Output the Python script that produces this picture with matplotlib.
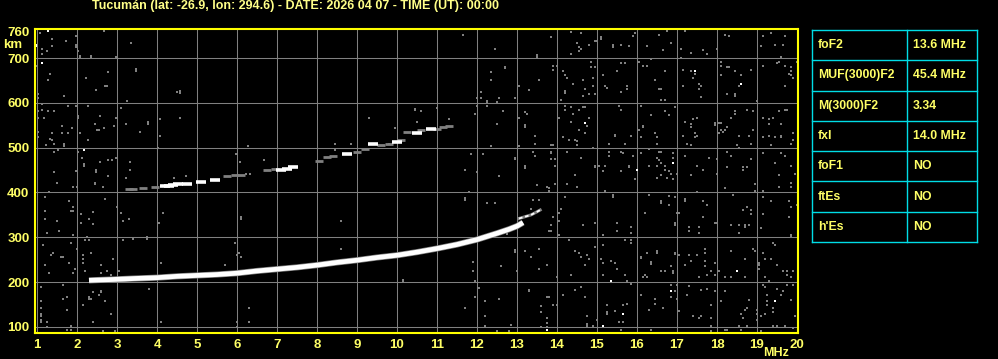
import matplotlib
matplotlib.use('Agg')
import matplotlib.pyplot as plt
import numpy as np

# ---- data ----
title = "Tucumán (lat: -26.9, lon: 294.6) - DATE: 2026 04 07 - TIME (UT): 00:00"

# main F2 trace (ordinary), white band
trace_f = [2.30, 2.60, 2.90, 3.40, 4.00, 4.50, 5.00, 5.50, 6.00, 6.50, 7.00, 7.50,
           8.00, 8.50, 9.00, 9.50, 10.00, 10.50, 11.00, 11.50, 12.00, 12.50, 12.80,
           13.00, 13.15]
trace_km = [204, 205, 206, 208, 210, 213, 215, 217, 220, 225, 229, 233,
            238, 244, 249, 255, 260, 267, 275, 284, 295, 309, 318, 325, 333]

# extraordinary tail up to fxI
xtail_f = [13.05, 13.20, 13.35, 13.50, 13.58]
xtail_km = [342, 346, 350, 357, 361]

# second-hop trace, broken: 1 = white, 0 = grey
upper_f = [3.30, 3.40, 3.65, 3.95, 4.20, 4.30, 4.40, 4.52, 4.75, 5.10, 5.45, 5.75,
           5.95, 6.10, 6.75, 6.95, 7.10, 7.25, 7.40, 8.05, 8.25, 8.40, 8.75, 9.00,
           9.20, 9.40, 9.60, 9.80, 10.00, 10.10, 10.25, 10.50, 10.60, 10.85, 11.00,
           11.15, 11.30]
upper_km = [407, 407, 411, 412, 415, 415, 416, 420, 420, 424, 427, 436,
            438, 438, 450, 452, 451, 453, 456, 470, 479, 481, 486, 491,
            496, 508, 506, 508, 512, 516, 535, 533, 540, 542, 542, 547, 549]
upper_white = [0, 0, 0, 0, 1, 1, 1, 1, 1, 1, 1, 0,
               0, 0, 0, 0, 1, 1, 1, 0, 0, 0, 1, 0,
               0, 1, 0, 0, 1, 0, 0, 1, 0, 1, 0, 0, 0]

# scattered interference dots (freq MHz, height km)
noise_grey = [
    (1.08,756),(1.38,743),(1.13,720),(1.24,716),(1.38,726),(1.13,708),(1.73,738),(1.98,750),
    (1.98,728),(1.98,724),(2.03,716),(2.08,705),(2.08,702),(2.34,705),(2.34,702),(2.68,760),
    (2.98,702),(3.34,734),(0.99,683),(1.33,665),(1.28,652),(2.23,656),(2.78,669),(3.48,676),
    (3.48,672),(2.48,629),(2.70,638),(2.74,638),(1.68,616),(1.03,620),(1.03,611),(3.25,603),
    (4.49,625),(4.58,627),(4.58,622),(1.13,597),(1.13,584),(1.03,581),(1.03,566),(1.28,581),
    (1.43,581),(1.18,566),(1.78,593),(1.98,593),(2.28,593),(2.03,571),(2.03,567),(3.09,589),
    (2.58,571),(2.98,566),(1.63,549),(1.88,544),(2.44,553),(2.51,540),(2.55,540),(2.68,544),
    (2.93,549),(3.23,553),(3.78,557),(3.78,553),(4.08,563),(4.58,566),(1.03,534),(1.03,523),
    (1.38,532),(1.63,532),(1.78,532),(2.08,532),(3.58,536),(4.08,527),(1.33,520),(1.38,518),
    (2.28,518),(1.23,505),(1.43,508),(1.68,508),(1.68,504),(2.03,491),(1.53,495),(1.43,491),
    (2.13,478),(2.18,464),(2.18,460),(2.58,468),(2.78,473),(2.88,473),(2.98,478),(3.33,468),
    (2.48,450),(2.48,446),(2.78,437),(3.33,451),(1.43,446),(1.98,448),(3.23,433),(4.03,500),
    (6.28,504),(5.98,486),(6.08,468),(6.68,473),(6.23,441),(6.33,441),(4.43,433),(4.73,437),
    (11.64,752),(12.44,721),(13.49,706),(13.49,702),(12.69,681),(12.69,677),(12.34,669),
    (12.34,651),(13.04,638),(13.29,629),(13.54,651),(12.09,624),(12.09,611),(11.99,611),
    (12.24,604),(12.24,600),(12.50,602),(12.54,611),(12.94,611),(12.00,593),(12.24,593),
    (12.64,581),(13.19,580),(13.24,575),(11.94,575),(13.04,566),(12.49,553),(13.19,551),
    (13.19,547),(13.44,526),(13.44,508),(12.34,504),(13.04,504),(11.84,486),(12.14,486),
    (13.39,491),(13.44,482),(12.94,478),(12.94,474),(13.19,458),(13.19,455),(11.69,450),
    (11.99,446),(12.54,437),(10.44,587),(10.44,584),(10.59,581),(10.49,558),(10.99,589),
    (9.30,567),(8.45,495),(8.45,508),(8.84,508),(9.79,508),(9.95,544),(11.29,563),
    (13.84,746),(14.34,759),(14.59,756),(14.49,734),(14.54,724),(14.59,719),(14.54,716),
    (14.34,708),(14.79,730),(14.94,737),(15.00,737),(15.09,746),(15.09,742),(15.39,728),
    (15.39,724),(15.59,730),(15.79,726),(15.89,750),(15.94,755),(16.24,726),(16.54,752),
    (16.64,717),(16.84,734),(16.74,761),(17.19,761),(17.09,721),(17.34,711),(17.64,717),
    (17.74,708),(17.09,701),(17.99,721),(18.19,752),(18.29,750),(19.14,750),(19.34,755),
    (19.69,748),(19.44,730),(19.64,730),(19.09,726),(19.59,703),
    (13.89,683),(13.99,683),(13.89,674),(14.14,670),(14.19,661),(14.24,656),(14.39,643),
    (14.19,626),(14.19,622),(14.09,606),(14.64,652),(14.69,630),(14.64,616),(14.84,692),
    (14.84,679),(14.95,679),(14.89,656),(14.89,638),(14.95,620),(14.79,620),(15.14,661),
    (15.19,638),(15.24,634),(15.49,670),(15.59,688),(15.69,688),(15.59,625),(15.74,638),
    (15.74,630),(16.04,692),(16.14,683),(16.24,683),(16.34,697),(16.44,652),(16.54,630),
    (16.59,630),(16.59,607),(16.69,607),(16.69,670),(17.14,674),(17.34,670),(17.39,656),
    (17.44,665),(17.14,638),(17.54,643),(17.59,638),(17.54,630),(17.59,612),(18.09,692),
    (18.09,683),(18.24,679),(18.29,679),(18.44,670),(18.84,674),(18.09,661),(18.59,661),
    (18.54,638),(18.24,620),(18.44,620),(18.44,616),(19.14,683),(19.49,688),(19.54,692),
    (19.69,683),(19.84,679),(19.84,670),(19.79,665),(19.89,656),(19.84,661),(19.69,638),
    (19.99,692),(18.99,603),
    (14.19,594),(14.34,590),(14.64,590),(14.69,590),(14.19,585),(14.39,576),(14.54,585),
    (14.04,567),(14.34,558),(14.54,540),(14.74,549),(14.79,567),(14.69,533),(14.14,523),
    (14.29,518),(14.44,518),(14.49,514),(14.49,505),(13.84,505),(13.89,505),(14.89,500),
    (15.44,529),(15.44,525),(15.59,585),(15.54,594),(15.69,509),(15.84,527),(15.29,509),
    (16.09,594),(16.14,549),(16.14,545),(16.04,540),(16.34,572),(16.09,523),(16.44,532),
    (16.49,523),(16.49,509),(16.69,581),(16.79,572),(16.94,590),(17.14,527),(17.19,558),
    (17.34,553),(17.34,545),(17.39,563),(17.49,567),(17.44,532),(17.49,527),(17.44,523),
    (17.24,509),(17.34,505),(17.94,555),(17.94,550),(18.04,555),(18.09,555),(18.09,540),
    (18.14,536),(18.19,540),(18.24,545),(18.04,532),(18.34,567),(18.44,576),(18.44,581),
    (18.54,527),(18.74,585),(18.79,527),(18.89,581),(18.89,540),(18.49,505),(18.54,500),
    (18.84,509),(19.14,567),(19.29,563),(19.29,553),(19.39,567),(19.59,553),(19.54,581),
    (19.69,585),(19.74,585),(19.14,523),(19.29,527),(19.44,523),(19.59,527),(19.59,523),
    (19.89,532),(19.89,518),(19.84,509),(19.34,505),
    (13.84,491),(13.84,487),(13.84,474),(13.94,474),(13.94,460),(14.24,491),(14.59,478),
    (14.44,438),(14.95,460),(14.95,456),(15.04,460),(15.14,447),(15.19,460),(15.29,491),
    (15.29,482),(15.59,491),(15.64,487),(15.89,482),(15.79,460),(15.79,456),(15.59,447),
    (15.94,429),(16.09,487),(16.29,496),(16.54,491),(16.59,491),(16.49,478),(16.54,473),
    (16.59,465),(16.89,487),(16.89,478),(16.29,460),(16.49,460),(16.69,460),(16.69,451),
    (16.79,447),(16.84,442),(16.59,438),(16.49,433),(16.74,433),(16.89,429),(16.99,442),
    (17.19,482),(17.34,438),(17.49,460),(17.64,451),(17.79,478),(17.99,474),(17.99,442),
    (18.24,491),(18.34,482),(18.24,456),(18.64,456),(18.64,451),(18.74,456),(18.84,474),
    (19.14,487),(19.44,465),(19.59,487),(19.69,482),(19.54,438),(19.84,460),(19.94,442),
    (1.49,422),(1.89,413),(1.99,413),(2.44,422),(2.44,418),(2.64,413),(1.19,391),(1.29,400),
    (1.79,382),(1.89,368),(1.84,359),(1.89,359),(1.19,359),(1.19,342),(1.49,337),(2.09,353),
    (2.09,333),(2.29,342),(2.39,357),(2.39,330),(2.69,386),(3.09,355),(3.14,337),(3.29,342),
    (2.99,368),(4.04,333),(4.14,355),(1.24,310),(1.54,315),(1.89,306),(1.84,288),(2.24,301),
    (2.29,293),(2.19,293),(1.14,284),(1.99,275),(1.34,261),(1.39,266),(1.59,257),(1.64,257),
    (2.14,261),(2.14,252),(2.14,243),(2.34,266),(2.89,252),(3.14,293),(3.39,297),(3.74,301),
    (3.74,297),(1.19,239),(1.29,221),(1.79,243),(1.89,221),(1.94,230),(2.19,226),(2.59,239),
    (2.59,221),(2.74,226),(2.84,217),(3.04,226),(4.09,243),(5.69,239),(5.94,288),(6.04,266),
    (5.99,261),(6.09,257),(6.09,346),(6.09,342),(1.09,190),(1.64,194),(1.74,168),(1.64,163),
    (1.09,157),(1.09,143),(1.09,130),(1.09,125),(1.09,116),(1.09,112),(1.24,112),(1.24,99),
    (1.74,139),(1.84,103),(1.84,94),(1.74,94),(2.14,148),(2.29,168),(2.34,163),(2.29,163),
    (2.39,177),(2.54,172),(2.59,181),(2.59,177),(2.69,157),(2.84,130),(2.94,90),(2.64,90),
    (2.39,112),(3.79,185),(4.09,112),(6.29,143),(6.29,112),(5.99,112),(5.99,99),
    (11.69,388),(11.69,384),(11.79,400),(12.24,377),(12.44,377),(13.49,417),(13.39,384),
    (13.34,364),(13.54,384),(8.59,337),(8.59,275),(10.14,205),(10.14,201),(11.89,244),
    (11.89,226),(11.94,203),(12.04,186),(11.94,168),(12.19,157),(12.54,162),(11.69,143),
    (12.19,125),(12.19,103),(12.59,235),(12.94,272),(12.94,268),(13.19,270),(13.34,256),
    (13.54,275),(13.54,230),(13.00,226),(13.29,183),(13.29,180),(13.59,147),(13.59,134),
    (13.59,101),(12.84,105),(12.49,90),(12.79,90),(12.74,308),(12.74,320),
    (13.74,413),(13.79,409),(13.79,404),(13.94,418),(14.24,418),(14.49,413),(14.19,391),
    (14.09,364),(14.04,355),(14.04,337),(13.89,346),(13.84,328),(13.79,315),(13.84,315),
    (14.04,306),(14.64,328),(14.94,333),(15.19,404),(15.19,400),(15.39,395),(15.39,391),
    (15.14,306),(15.49,333),(15.49,315),(15.84,324),(15.84,310),(16.19,355),(16.29,395),
    (16.59,382),(16.59,377),(16.79,393),(16.79,373),(16.94,391),(16.94,333),(16.94,328),
    (17.00,355),(17.04,355),(17.19,386),(17.19,382),(17.29,324),(17.29,315),(17.54,324),
    (17.54,310),(17.49,400),(17.64,382),(17.74,373),(17.64,346),(17.94,333),(17.99,333),
    (18.19,409),(18.39,395),(18.64,360),(18.74,368),(18.84,360),(18.84,351),(18.54,328),
    (18.69,328),(18.79,328),(18.69,324),(18.34,328),(18.54,310),(18.94,418),(18.94,404),
    (19.14,404),(19.14,391),(19.14,351),(19.09,320),(19.34,382),(19.54,413),(19.79,382),
    (19.84,368),(19.84,413),(19.84,422),(19.99,373),(19.79,346),(19.84,306),(19.84,301),
    (14.29,293),(14.44,270),(14.54,266),(14.74,261),(14.79,252),(14.59,257),(14.94,279),
    (15.14,284),(15.09,252),(15.14,243),(15.34,248),(15.44,243),(15.69,293),(15.84,293),
    (15.84,288),(15.49,230),(15.69,217),(15.14,217),(15.74,203),(14.34,217),(14.69,239),
    (13.99,212),(13.74,239),(16.09,253),(16.09,257),(16.24,266),(16.34,244),(16.34,240),
    (16.49,270),(16.49,266),(16.19,217),(16.14,212),(16.24,212),(16.59,226),(16.69,226),
    (16.89,226),(16.89,221),(16.84,235),(16.94,266),(16.94,262),(17.04,261),(17.19,239),
    (17.29,261),(17.34,248),(17.49,261),(17.54,212),(17.69,275),(17.69,266),(17.69,248),
    (17.69,235),(17.84,226),(17.74,217),(17.94,217),(17.94,243),(18.04,226),(18.19,212),
    (18.34,212),(18.34,270),(18.69,252),(18.89,275),(18.94,270),(18.69,212),(19.04,243),
    (19.04,239),(19.04,230),(19.14,266),(19.19,252),(19.34,252),(19.39,288),(19.44,284),
    (19.49,239),(19.64,226),(19.74,226),(19.74,217),(19.89,226),(19.84,212),(19.29,203),
    (19.19,212),
    (13.74,168),(13.79,168),(13.89,148),(13.99,148),(13.74,121),(13.74,110),(13.74,99),
    (14.14,172),(14.44,183),(14.69,168),(14.59,190),(14.74,125),(14.74,107),(14.74,103),
    (14.89,103),(14.99,116),(15.24,148),(15.24,134),(15.24,130),(15.44,136),(15.54,112),
    (15.64,112),(15.64,148),(15.74,152),(15.84,197),(16.09,172),(16.29,139),(16.44,163),
    (16.44,152),(16.64,143),(16.84,194),(16.84,168),(16.99,163),(17.04,136),(16.99,194),
    (16.94,181),(17.29,192),(17.24,172),(17.59,183),(17.74,185),(17.94,181),(17.39,125),
    (17.54,121),(17.59,125),(17.84,121),(17.84,103),(17.84,148),(18.09,157),(18.19,181),
    (18.59,130),(18.64,121),(18.54,103),(18.74,103),(18.69,139),(18.74,143),(18.79,161),
    (18.99,139),(18.99,130),(18.99,116),(19.09,125),(19.19,130),(19.24,172),(19.24,157),
    (19.24,148),(19.39,143),(19.39,134),(19.49,185),(19.59,172),(19.64,181),(19.74,194),
    (19.89,194),(19.84,161),(19.94,125),(19.69,103),(19.89,98),(19.14,194),(19.19,190),
    (19.39,103),(19.49,103),(18.19,94),(18.24,94),(17.84,90),(18.59,94),(16.34,94),
    (15.59,94),(19.09,90),
]
noise_white = [(1.28,761),(0.98,730),(0.98,726),(1.13,688),(2.18,495),(17.44,670),
               (18.59,643),(14.69,554),(15.99,451),(16.89,465),(15.34,203),(18.49,226),
               (15.14,103),(15.64,130),(16.84,181),(19.44,157),(13.74,94)]

freq_ticks = list(range(1, 21))
km_ticks = [100, 200, 300, 400, 500, 600, 700]

param_names = ['foF2', 'MUF(3000)F2', 'M(3000)F2', 'fxI', 'foF1', 'ftEs', "h'Es"]
param_values = ['13.6 MHz', '45.4 MHz', '3.34', '14.0 MHz', 'NO', 'NO', 'NO']

# ---- style ----
plt.rcParams['font.family'] = ['Liberation Sans', 'DejaVu Sans']
plt.rcParams['font.weight'] = 'bold'
yellow = '#ffff66'
grey = '#808080'
cyan = '#00dde6'

W, H = 998, 359
fig = plt.figure(figsize=(W / 100, H / 100), dpi=100, facecolor='black')

# plot area in pixel box: x 35..798, y 29..333
ax = fig.add_axes([35 / W, 1 - 333 / H, 763 / W, 304 / H])
ax.set_facecolor('black')
ax.set_xlim(0.95, 20.025)
ax.set_ylim(86.6, 764.7)

ax.set_xticks(freq_ticks)
ax.set_yticks(km_ticks + [760])
ax.set_yticklabels([str(v) for v in km_ticks] + ['760'])
ax.tick_params(length=0, colors=yellow, labelsize=9.5, pad=4)
for lab in ax.get_xticklabels() + ax.get_yticklabels():
    lab.set_fontweight('bold')

for f in freq_ticks:
    ax.axvline(f, color=grey, lw=0.75, zorder=1)
for k in km_ticks:
    ax.axhline(k, color=grey, lw=0.75, zorder=1)

for sp in ax.spines.values():
    sp.set_color('#ffff00')
    sp.set_linewidth(1.5)
    sp.set_zorder(6)

# interference dots
ng = np.array(noise_grey)
nw = np.array(noise_white)
ax.scatter(ng[:, 0], ng[:, 1], marker='s', s=3.4, c=grey, linewidths=0, zorder=2)
ax.scatter(nw[:, 0], nw[:, 1], marker='s', s=3.4, c='white', linewidths=0, zorder=2)

# main trace
ax.plot(trace_f, trace_km, color=grey, lw=4.4, solid_capstyle='butt', zorder=3)
ax.plot(trace_f, trace_km, color='white', lw=3.4, solid_capstyle='butt', zorder=4)
ax.plot(xtail_f, xtail_km, color=grey, lw=2.2, zorder=3)
ax.plot(xtail_f, xtail_km, color='white', lw=1.3, ls=(0, (2, 1.5)), zorder=4)

# second hop trace
uf = np.array(upper_f)
uk = np.array(upper_km)
uw = np.array(upper_white, dtype=bool)
ax.hlines(uk[~uw], uf[~uw] - 0.1, uf[~uw] + 0.1, color=grey, lw=2.0, zorder=3)
ax.hlines(uk[uw], uf[uw] - 0.12, uf[uw] + 0.12, color='white', lw=2.6, zorder=4)

# labels
fig.text(295 / W, 1 - 6.5 / H, title, color='#ffff88', fontsize=9,
         fontweight='bold', ha='center', va='center')
fig.text(13 / W, 1 - 45 / H, 'km', color=yellow, fontsize=9.5, fontweight='bold',
         ha='center', va='center')
fig.text(776 / W, 1 - 353 / H, 'MHz', color=yellow, fontsize=9, fontweight='bold',
         ha='center', va='center')

# parameter table
tax = fig.add_axes([812 / W, 1 - 242 / H, 165 / W, 212 / H])
tax.set_xlim(0, 1)
tax.set_ylim(len(param_names), 0)
tax.axis('off')
split = 95 / 165
for i in range(len(param_names) + 1):
    tax.plot([0, 1], [i, i], color=cyan, lw=1, clip_on=False)
for x in (0, split, 1):
    tax.plot([x, x], [0, len(param_names)], color=cyan, lw=1, clip_on=False)
for i, (name, val) in enumerate(zip(param_names, param_values)):
    tax.text(0.035, i + 0.5, name, color=yellow, fontsize=8.8, fontweight='bold',
             va='center', ha='left')
    tax.text(split + 0.035, i + 0.5, val, color=yellow, fontsize=8.8, fontweight='bold',
             va='center', ha='left')

fig.savefig('out.png', dpi=100, facecolor='black')
